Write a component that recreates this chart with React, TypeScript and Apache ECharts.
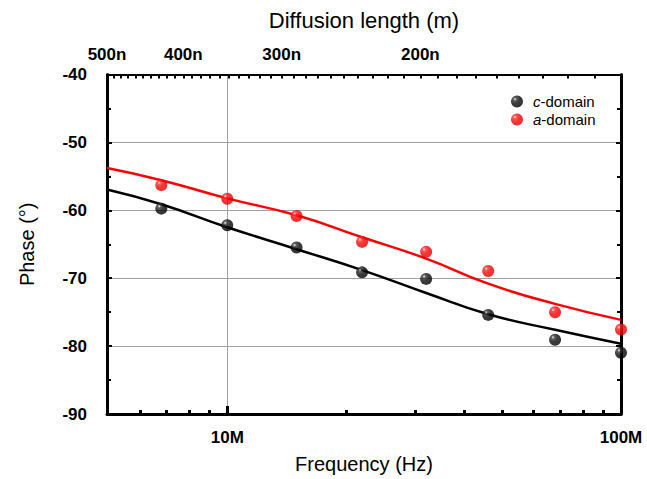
import React, { useEffect, useRef } from "react";
import * as echarts from "echarts";

// Measured data (frequency in Hz, phase in degrees)
const freq = [6.8e6, 1e7, 1.5e7, 2.2e7, 3.2e7, 4.6e7, 6.8e7, 1e8];
const cDomain = [-59.75, -62.2, -65.47, -69.13, -70.1, -75.4, -79.06, -80.97];
const aDomain = [-56.29, -58.28, -60.84, -64.65, -66.11, -68.94, -75.0, -77.55];

// Fit curves
const fitFreq = [4.95e6, 6.8e6, 1e7, 1.5e7, 2.2e7, 3.2e7, 4.6e7, 6.8e7, 1e8];
const cFit = [-56.92, -59.1, -62.49, -65.72, -68.8, -72.17, -75.3, -77.6, -79.65];
const aFit = [-53.77, -55.56, -58.24, -60.73, -63.96, -67.1, -70.8, -73.78, -76.13];

// Bottom axis ticks
const freqMinorTicks = [6e6, 7e6, 8e6, 9e6, 2e7, 3e7, 4e7, 5e7, 6e7, 7e7, 8e7, 9e7];
const freqMajorTicks = [1e7, 1e8];
const freqLabels = ["10M", "100M"];

// Top axis: diffusion length (nm), L ∝ f^-1/2, 500 nm at the left edge
const F_MIN = 4.95e6;
const F_MAX = 1e8;
const lenMajor = [500, 400, 300, 200];
const lenMinor = [490, 480, 470, 460, 450, 440, 430, 420, 410, 390, 380, 370, 360, 350, 340, 330, 320, 310, 290, 280, 270, 260, 250, 240, 230, 220, 210, 190, 180, 170, 160, 150, 140, 130, 120, 110];

const lenToFreq = (L: number) => F_MIN * Math.pow(500 / L, 2);
const freqToLen = (f: number) => 500 * Math.sqrt(F_MIN / f);

const FONT = "'Liberation Sans', Arial, sans-serif";

export default function App() {
  const ref = useRef<HTMLDivElement>(null);
  useEffect(() => {
    if (!ref.current) return;
    const chart = echarts.init(ref.current, null, { renderer: "svg" });
    const blackBall = new echarts.graphic.RadialGradient(0.33, 0.3, 0.75, [
      { offset: 0, color: "#f4f4f4" },
      { offset: 0.18, color: "#3a3a3a" },
      { offset: 0.5, color: "#0a0a0a" },
      { offset: 1, color: "#000" },
    ]);
    const redBall = new echarts.graphic.RadialGradient(0.33, 0.3, 0.75, [
      { offset: 0, color: "#fff0f0" },
      { offset: 0.18, color: "#ff3030" },
      { offset: 0.5, color: "#ff0000" },
      { offset: 1, color: "#d80000" },
    ]);
    const baseX = {
      type: "log" as const,
      logBase: 10,
      min: F_MIN,
      max: F_MAX,
      gridIndex: 0,
    };
    const option: any = {
      animation: false,
      textStyle: { fontFamily: FONT },
      grid: { left: 107, right: 26, top: 74.6, bottom: 63.4, containLabel: false },
      legend: {
        data: ["c-domain", "a-domain"],
        orient: "vertical",
        left: 506,
        top: 89,
        itemWidth: 22,
        itemHeight: 12,
        itemGap: 3,
        icon: "circle",
        formatter: (name: string) => `{i|${name[0]}}{n|${name.slice(1)}}`,
        textStyle: {
          fontFamily: FONT,
          fontSize: 15,
          color: "#000",
          rich: {
            i: { fontStyle: "italic", fontSize: 15, fontFamily: FONT, color: "#000" },
            n: { fontSize: 15, fontFamily: FONT, color: "#000" },
          },
        },
      },
      xAxis: [
        {
          ...baseX,
          position: "bottom",
          name: "Frequency (Hz)",
          nameLocation: "middle",
          nameGap: 40,
          nameTextStyle: { fontSize: 20, fontFamily: FONT, color: "#000" },
          axisLine: { show: true, lineStyle: { color: "#000", width: 3 } },
          axisTick: { show: true, inside: true, length: 8, lineStyle: { color: "#000", width: 3 }, customValues: freqMajorTicks },
          axisLabel: {
            show: true,
            customValues: freqMajorTicks,
            formatter: (v: number) => freqLabels[freqMajorTicks.indexOf(Math.round(v))] ?? "",
            fontSize: 17,
            fontWeight: "bold",
            color: "#000",
            margin: 15,
            fontFamily: FONT,
          },
          splitLine: { show: true, lineStyle: { color: "#a0a0a0", width: 1 } },
        },
        {
          ...baseX,
          position: "bottom",
          axisLine: { show: false },
          axisTick: { show: true, inside: true, length: 4, lineStyle: { color: "#000", width: 3 }, customValues: freqMinorTicks },
          axisLabel: { show: false },
          splitLine: { show: false },
        },
        {
          ...baseX,
          position: "top",
          name: "Diffusion length (m)",
          nameLocation: "middle",
          nameGap: 43,
          nameTextStyle: { fontSize: 22, fontFamily: FONT, color: "#000" },
          axisLine: { show: true, lineStyle: { color: "#000", width: 2 } },
          axisTick: { show: true, inside: true, length: 4, lineStyle: { color: "#000", width: 2 }, customValues: lenMinor.concat(lenMajor.slice(1)).map(lenToFreq) },
          axisLabel: {
            show: true,
            customValues: lenMajor.map(lenToFreq),
            formatter: (v: number) => `${Math.round(freqToLen(v))}n`,
            fontSize: 17,
            fontWeight: "bold",
            color: "#000",
            margin: 12,
            fontFamily: FONT,
          },
          splitLine: { show: false },
        },
      ],
      yAxis: [
        {
          type: "value",
          min: -90,
          max: -40,
          interval: 10,
          position: "left",
          name: "Phase (°)",
          nameLocation: "middle",
          nameGap: 70,
          nameTextStyle: { fontSize: 20, fontFamily: FONT, color: "#000" },
          axisLine: { show: true, lineStyle: { color: "#000", width: 3 } },
          axisTick: { show: true, inside: true, length: 5, lineStyle: { color: "#000", width: 2 } },
          minorTick: { show: true, splitNumber: 2, length: 4, lineStyle: { color: "#000", width: 2 } },
          axisLabel: { fontSize: 17, fontWeight: "bold", color: "#000", margin: 20, fontFamily: FONT },
          splitLine: { show: true, lineStyle: { color: "#a0a0a0", width: 1 } },
        },
        {
          type: "value",
          min: -90,
          max: -40,
          interval: 10,
          position: "right",
          axisLine: { show: true, lineStyle: { color: "#000", width: 3 } },
          axisTick: { show: true, inside: true, length: 5, lineStyle: { color: "#000", width: 2 } },
          minorTick: { show: true, splitNumber: 2, length: 4, lineStyle: { color: "#000", width: 2 } },
          axisLabel: { show: false },
          splitLine: { show: false },
        },
      ],
      series: [
        {
          name: "c-fit",
          type: "line",
          xAxisIndex: 0,
          yAxisIndex: 0,
          data: fitFreq.map((f, i) => [f, cFit[i]]),
          smooth: 0.5,
          symbol: "none",
          lineStyle: { color: "#000", width: 2.5 },
          z: 3,
        },
        {
          name: "a-fit",
          type: "line",
          xAxisIndex: 0,
          yAxisIndex: 0,
          data: fitFreq.map((f, i) => [f, aFit[i]]),
          smooth: 0.5,
          symbol: "none",
          lineStyle: { color: "#ff0000", width: 2.5 },
          z: 3,
        },
        {
          name: "c-domain",
          type: "scatter",
          xAxisIndex: 0,
          yAxisIndex: 0,
          data: freq.map((f, i) => [f, cDomain[i]]),
          symbol: "circle",
          symbolSize: 12,
          itemStyle: { color: blackBall },
          z: 4,
        },
        {
          name: "a-domain",
          type: "scatter",
          xAxisIndex: 0,
          yAxisIndex: 0,
          data: freq.map((f, i) => [f, aDomain[i]]),
          symbol: "circle",
          symbolSize: 12,
          itemStyle: { color: redBall },
          z: 4,
        },
      ],
    };
    chart.setOption(option);
    return () => chart.dispose();
  }, []);
  return (
    <div
      ref={ref}
      style={{ position: "fixed", left: 0, top: 0, width: 647, height: 479, background: "#fff" }}
    />
  );
}
